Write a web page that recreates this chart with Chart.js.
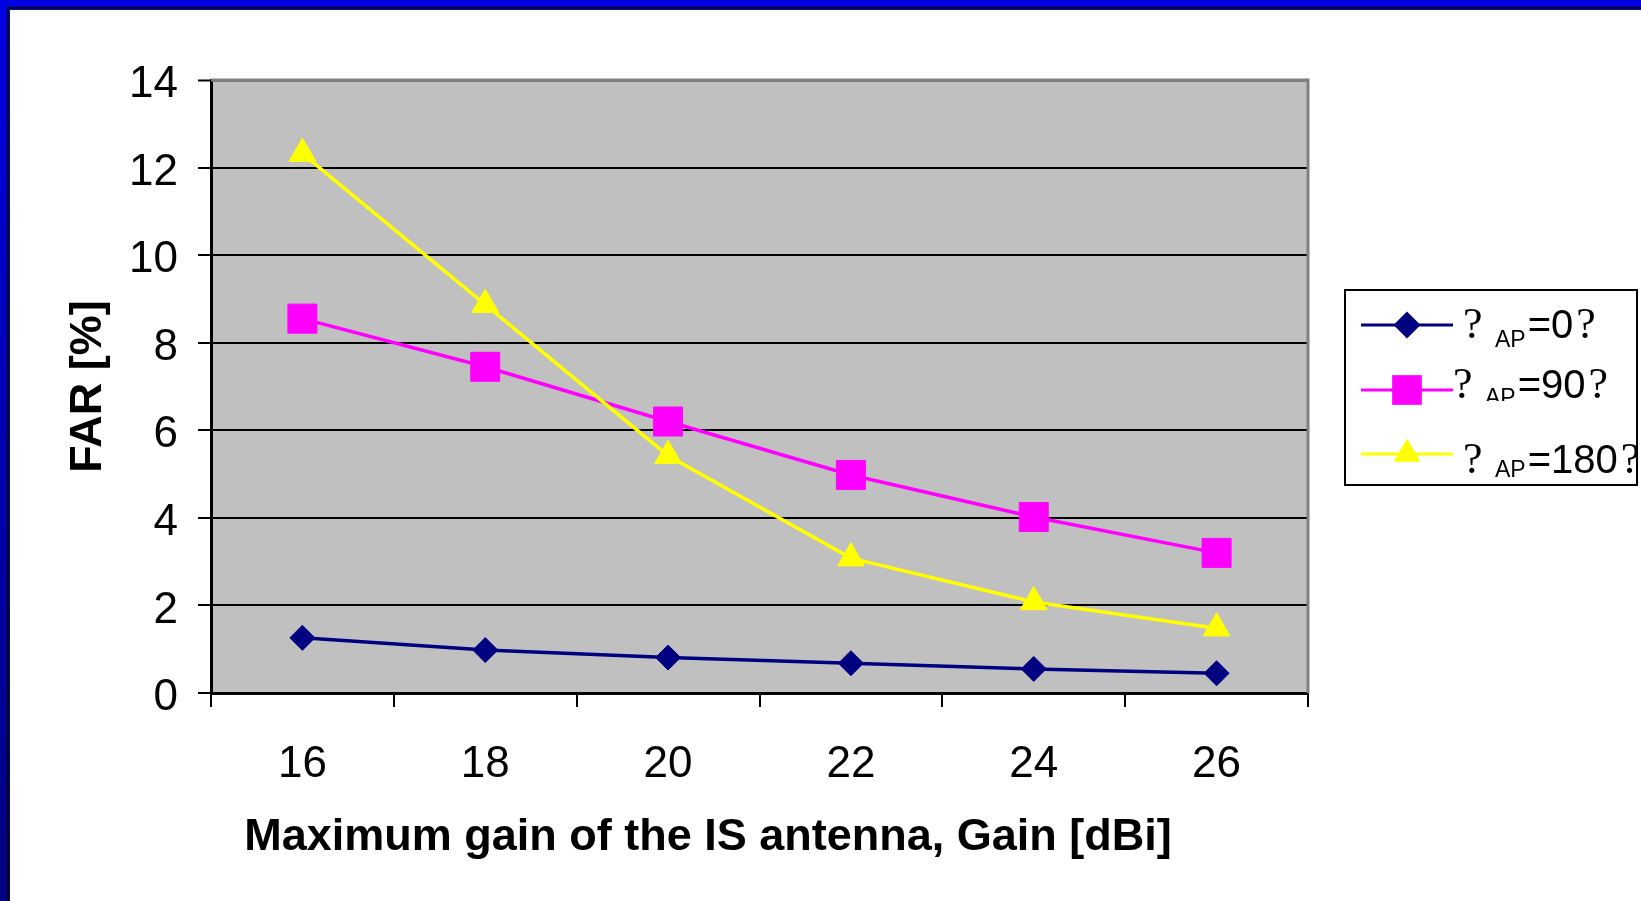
<!DOCTYPE html>
<html>
<head>
<meta charset="utf-8">
<title>FAR vs maximum gain</title>
<script src="https://cdn.jsdelivr.net/npm/chart.js"></script>
<style>
  html, body { margin: 0; padding: 0; background: #fff; overflow: hidden; }
  #wrap { position: relative; width: 1641px; height: 901px; }
  #chart { position: absolute; left: 0; top: 0; }
  .edge { position: absolute; z-index: 2; }
  #topBlue { left: 0; top: 0; width: 1641px; height: 7px; background: #0000e4; }
  #topBlack { left: 0; top: 7px; width: 1641px; height: 2px; background: #000; }
  #topThin { left: 0; top: 9px; width: 1641px; height: 1px; background: #0000e4; }
  #leftBlue { left: 0; top: 0; width: 7px; height: 901px; background: linear-gradient(#0000e4, #000080); }
  #leftBlack { left: 7px; top: 7px; width: 2px; height: 894px; background: #000; }
  #leftThin { left: 9px; top: 9px; width: 1px; height: 892px; background: linear-gradient(#0000e4, #000080); }
</style>
</head>
<body>
<div id="wrap">
  <canvas id="chart" width="1641" height="901"></canvas>
  <div class="edge" id="topBlue"></div>
  <div class="edge" id="topBlack"></div>
  <div class="edge" id="topThin"></div>
  <div class="edge" id="leftBlue"></div>
  <div class="edge" id="leftBlack"></div>
  <div class="edge" id="leftThin"></div>
</div>
<script>
// data
const gains = ['16', '18', '20', '22', '24', '26'];
const far0 = [1.26, 0.98, 0.81, 0.68, 0.55, 0.45];
const far90 = [8.55, 7.45, 6.2, 4.98, 4.02, 3.2];
const far180 = [12.32, 8.87, 5.42, 3.08, 2.08, 1.48];
const yTicks = [0, 2, 4, 6, 8, 10, 12, 14];

// legend texts: symbol, subscript, value, closing symbol
const legend0 = ['?', 'AP', '=0', '?'];
const legend90 = ['?', 'AP', '=90', '?'];
const legend180 = ['?', 'AP', '=180', '?'];

const xTitle = 'Maximum gain of the IS antenna, Gain [dBi]';
const yTitle = 'FAR [%]';

const SANS = '"Liberation Sans", Arial, sans-serif';
const SERIF = '"Liberation Serif", "Times New Roman", serif';

function series(parts, data, color, style, radius, order) {
  return {
    label: parts[0] + ' ' + parts[1] + parts[2] + parts[3],
    legendParts: parts,
    data: data,
    borderColor: color,
    backgroundColor: color,
    borderWidth: 3.5,
    pointStyle: style,
    pointRadius: radius,
    pointHoverRadius: radius,
    pointBackgroundColor: color,
    pointBorderColor: color,
    pointBorderWidth: 1,
    tension: 0,
    order: order
  };
}

// gray plot background with darker top/right edges
const plotFrame = {
  id: 'plotFrame',
  beforeDraw(chart) {
    const { ctx, chartArea: a } = chart;
    ctx.save();
    ctx.fillStyle = '#c0c0c0';
    ctx.fillRect(a.left, a.top, a.right - a.left, a.bottom - a.top);
    ctx.restore();
  },
  beforeDatasetsDraw(chart) {
    const { ctx, chartArea: a } = chart;
    ctx.save();
    ctx.strokeStyle = '#808080';
    ctx.lineWidth = 3;
    ctx.beginPath();
    ctx.moveTo(a.left, a.top);
    ctx.lineTo(a.right, a.top);
    ctx.lineTo(a.right, a.bottom);
    ctx.stroke();
    ctx.restore();
  }
};

// x axis title sits left of the plot centre in the original
const xTitlePlugin = {
  id: 'xTitle',
  afterDraw(chart) {
    const { ctx, chartArea: a } = chart;
    ctx.save();
    ctx.font = 'bold 45px ' + SANS;
    ctx.fillStyle = '#000';
    ctx.textAlign = 'center';
    ctx.textBaseline = 'middle';
    ctx.fillText(xTitle, a.left + (a.right - a.left) * 0.453, a.bottom + 145);
    ctx.restore();
  }
};

// boxed legend with subscripts
const boxLegend = {
  id: 'boxLegend',
  afterDraw(chart) {
    const ctx = chart.ctx;
    const box = { x: 1345, y: 290, w: 292, h: 195 };
    const rowY = [325, 390, 454];
    const textX = [1463, 1453, 1463];
    const baseY = [338, 398, 473];
    const subY = [347, 405, 477];
    ctx.save();
    ctx.fillStyle = '#fff';
    ctx.fillRect(box.x, box.y, box.w, box.h);
    ctx.strokeStyle = '#000';
    ctx.lineWidth = 2;
    ctx.strokeRect(box.x, box.y, box.w, box.h);

    chart.data.datasets.forEach((ds, i) => {
      const y = rowY[i];
      ctx.strokeStyle = ds.borderColor;
      ctx.fillStyle = ds.borderColor;
      ctx.lineWidth = 3;
      ctx.beginPath();
      ctx.moveTo(1361, y);
      ctx.lineTo(1453, y);
      ctx.stroke();
      const r = ds.pointStyle === 'rect' ? 21 : (ds.pointStyle === 'triangle' ? 15.5 : 13.5);
      Chart.helpers.drawPoint(ctx, { pointStyle: ds.pointStyle, radius: r, rotation: 0, borderWidth: 0 }, 1407, y);

      ctx.save();
      ctx.beginPath();
      ctx.rect(box.x, box.y, box.w, (i === 1 ? 401 : box.y + box.h) - box.y);
      ctx.clip();
      ctx.fillStyle = '#000';
      ctx.textBaseline = 'alphabetic';
      ctx.textAlign = 'left';
      const p = ds.legendParts;
      let x = textX[i];
      ctx.font = '44px ' + SERIF;
      ctx.fillText(p[0], x, baseY[i]);
      x += 32;
      ctx.font = '23px ' + SANS;
      ctx.fillText(p[1], x, subY[i]);
      x += ctx.measureText(p[1]).width + 2;
      ctx.font = '40px ' + SANS;
      ctx.fillText(p[2], x, baseY[i]);
      x += ctx.measureText(p[2]).width + 3;
      ctx.font = '44px ' + SERIF;
      ctx.fillText(p[3], x, baseY[i]);
      ctx.restore();
    });
    ctx.restore();
  }
};

new Chart(document.getElementById('chart'), {
  type: 'line',
  data: {
    labels: gains,
    datasets: [
      series(legend0, far0, '#000080', 'rectRot', 12.5, 2),
      series(legend90, far90, '#ff00ff', 'rect', 20.5, 1),
      series(legend180, far180, '#ffff00', 'triangle', 15.5, 0)
    ]
  },
  options: {
    responsive: false,
    animation: false,
    layout: { padding: { left: 0, top: 80, right: 333, bottom: 0 } },
    plugins: {
      legend: { display: false },
      tooltip: { enabled: false }
    },
    scales: {
      x: {
        type: 'category',
        offset: true,
        afterFit: s => { s.height = 208; },
        grid: {
          offset: true,
          drawOnChartArea: false,
          color: '#000',
          lineWidth: 2,
          tickLength: 14
        },
        border: { color: '#000', width: 3 },
        ticks: {
          color: '#000',
          padding: 31,
          font: { family: SANS, size: 44 }
        }
      },
      y: {
        min: 0,
        max: 14,
        afterFit: s => { s.width = 211; },
        afterBuildTicks: s => { s.ticks = yTicks.map(v => ({ value: v })); },
        grid: {
          color: c => (c.tick && c.tick.value === 14 ? '#808080' : '#000'),
          lineWidth: c => (c.tick && c.tick.value === 14 ? 3 : 2),
          tickColor: '#000',
          tickWidth: 2,
          tickLength: 13
        },
        border: { color: '#000', width: 3 },
        ticks: {
          color: '#000',
          padding: 20,
          labelOffset: 5,
          font: { family: SANS, size: 44 }
        },
        title: {
          display: true,
          text: yTitle,
          color: '#000',
          font: { family: SANS, size: 45, weight: 'bold' },
          padding: { top: 62, bottom: 0 }
        }
      }
    }
  },
  plugins: [plotFrame, xTitlePlugin, boxLegend]
});
</script>
</body>
</html>
